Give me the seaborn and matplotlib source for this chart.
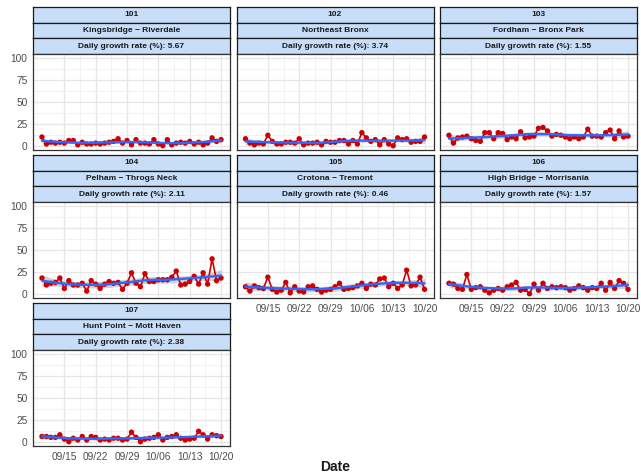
import numpy as np
import pandas as pd
import matplotlib
matplotlib.use("Agg")
import matplotlib.pyplot as plt
import matplotlib.dates as mdates
import seaborn as sns

sns.set_theme(style="white")
plt.rcParams['font.family'] = ['Liberation Sans', 'DejaVu Sans']

# ---------------- data ----------------
dates = pd.date_range("2020-09-10", "2020-10-20", freq="D")
codes = ["101", "102", "103", "104", "105", "106", "107"]
names = ["Kingsbridge \u2212 Riverdale", "Northeast Bronx", "Fordham \u2212 Bronx Park",
         "Pelham \u2212 Throgs Neck", "Crotona \u2212 Tremont", "High Bridge \u2212 Morrisania",
         "Hunt Point \u2212 Mott Haven"]
growth = ["5.67", "3.74", "1.55", "2.11", "0.46", "1.57", "2.38"]

v101 = [10, 2, 4, 3, 4, 3, 6, 6, 1, 4, 2, 2, 3, 2, 3, 4, 5, 8, 3, 6, 1, 7, 3, 3, 2, 7, 2, 0, 7, 1, 3, 4, 3, 5, 2, 4, 1, 3, 9, 5, 7]
v102 = [8, 3, 1, 3, 2, 12, 5, 2, 2, 4, 4, 3, 8, 1, 3, 3, 4, 1, 5, 4, 4, 6, 6, 2, 6, 2, 15, 9, 5, 7, 1, 7, 2, 0, 9, 7, 8, 4, 5, 5, 10]
v103 = [12, 3, 9, 10, 11, 8, 6, 5, 15, 15, 8, 15, 14, 7, 10, 8, 16, 9, 10, 11, 20, 21, 17, 11, 13, 12, 10, 8, 10, 8, 10, 19, 11, 11, 10, 15, 18, 8, 17, 10, 11]
v104 = [18, 10, 12, 13, 18, 6, 15, 10, 10, 12, 3, 15, 11, 6, 11, 14, 12, 13, 5, 12, 24, 12, 8, 23, 14, 14, 16, 16, 16, 19, 26, 10, 11, 14, 20, 11, 24, 11, 40, 15, 18]
v105 = [8, 3, 9, 7, 6, 19, 5, 2, 4, 13, 1, 8, 3, 2, 8, 9, 5, 2, 4, 5, 8, 12, 5, 6, 7, 9, 12, 6, 11, 10, 17, 18, 8, 12, 6, 10, 27, 9, 10, 19, 5]
v106 = [12, 11, 6, 5, 22, 5, 7, 8, 4, 1, 4, 6, 4, 8, 10, 13, 4, 5, 0, 11, 4, 12, 6, 8, 7, 8, 7, 4, 6, 9, 7, 4, 7, 6, 12, 4, 13, 6, 15, 12, 5]
v107 = [6, 6, 5, 5, 8, 3, 0, 4, 2, 6, 2, 6, 5, 2, 3, 2, 4, 4, 2, 3, 11, 5, 0, 3, 4, 5, 8, 2, 5, 6, 8, 4, 2, 3, 4, 12, 8, 3, 8, 7, 6]
values = [v101, v102, v103, v104, v105, v106, v107]

xticks = pd.to_datetime(["2020-09-15", "2020-09-22", "2020-09-29", "2020-10-06", "2020-10-13", "2020-10-20"])
yticks = [0, 25, 50, 75, 100]


def loess(x, y, xg, span=0.75):
    n = len(x)
    q = int(np.floor(n * span))

    def lvec(x0):
        d = np.abs(x - x0)
        h = np.sort(d)[q - 1]
        w = np.clip(1 - (d / h) ** 3, 0, None) ** 3
        X = np.vstack([np.ones(n), x - x0, (x - x0) ** 2]).T
        A = X.T * w
        return np.linalg.solve(A @ X, A)[0]

    L = np.array([lvec(x0) for x0 in x])
    res = y - L @ y
    nu1 = np.trace((np.eye(n) - L).T @ (np.eye(n) - L))
    s = np.sqrt(np.sum(res ** 2) / nu1)
    Lg = np.array([lvec(x0) for x0 in xg])
    fit = Lg @ y
    se = s * np.sqrt(np.sum(Lg ** 2, axis=1))
    return fit, se


W, H = 641, 474
fig = plt.figure(figsize=(W / 100, H / 100), dpi=100)


def rect(x0, y0, x1, y1):
    return [x0 / W, 1 - y1 / H, (x1 - x0) / W, (y1 - y0) / H]


lefts = [33, 236.5, 440]
pw = 197
tops = [7, 155, 303]
sh = 15.7
ph = 96
strip_col = "#c8ddf8"
red = "#cc0000"

xnum = np.arange(len(dates), dtype=float)
xg = np.linspace(0, len(dates) - 1, 120)
dg = dates[0] + pd.to_timedelta(xg, unit="D")

for i in range(7):
    r, c = divmod(i, 3)
    x0 = lefts[c]
    t = tops[r]
    # strips
    for k, txt in enumerate([codes[i], names[i], f"Daily growth rate (%): {growth[i]}"]):
        sax = fig.add_axes(rect(x0, t + k * sh, x0 + pw, t + (k + 1) * sh))
        sax.set_facecolor(strip_col)
        sax.set_xticks([]); sax.set_yticks([])
        for sp in sax.spines.values():
            sp.set_color("#1a1a1a"); sp.set_linewidth(0.9)
        sax.text(0.5, 0.5, txt, ha="center", va="center", fontsize=6, fontweight="bold",
                 color="#1a1a1a", transform=sax.transAxes)
    pt = t + 3 * sh
    ax = fig.add_axes(rect(x0, pt, x0 + pw, pt + ph))
    df = pd.DataFrame({"date": dates, "value": values[i]})
    y = np.array(values[i], dtype=float)
    fit, se = loess(xnum, y, xg)
    ax.fill_between(dg, fit - 2.03 * se, fit + 2.03 * se, color="#999999", alpha=0.45, lw=0, zorder=2)
    sns.lineplot(data=df, x="date", y="value", color=red, lw=1.2, ax=ax, zorder=3)
    sns.scatterplot(data=df, x="date", y="value", color=red, s=15, edgecolor="none", ax=ax, zorder=4)
    sns.lineplot(x=dg, y=fit, color="#3366FF", lw=1.7, ax=ax, zorder=5)

    ax.set_ylim(-5, 105)
    ax.set_xlim(dates[0] - pd.Timedelta(days=2), dates[-1] + pd.Timedelta(days=2))
    ax.set_yticks(yticks)
    ax.set_yticks([12.5, 37.5, 62.5, 87.5], minor=True)
    ax.set_xticks(xticks)
    ax.set_xticks(xticks[:-1] + pd.Timedelta(hours=84), minor=True)
    ax.xaxis.set_major_formatter(mdates.DateFormatter("%m/%d"))
    ax.grid(True, which="major", color="#e6e6e6", lw=0.9, zorder=0)
    ax.grid(True, which="minor", color="#f0f0f0", lw=0.6, zorder=0)
    ax.set_axisbelow(True)
    ax.set_facecolor("white")
    for sp in ax.spines.values():
        sp.set_color("#333333"); sp.set_linewidth(0.9)
    ax.set_xlabel(""); ax.set_ylabel("")
    ax.tick_params(axis="both", which="major", length=2.5, width=0.6, color="#333333",
                   labelsize=7.3, labelcolor="#4d4d4d", pad=1.5)
    ax.tick_params(which="minor", length=0)
    if c != 0:
        ax.tick_params(axis="y", labelleft=False)
    bottom = (r == 2) or (r == 1 and c > 0)
    if not bottom:
        ax.tick_params(axis="x", labelbottom=False)

fig.text(335 / W, 1 - 467 / H, "Date", ha="center", va="center", fontsize=10, fontweight="bold",
         color="#1a1a1a")

fig.savefig("out.png", dpi=100, facecolor="white")
